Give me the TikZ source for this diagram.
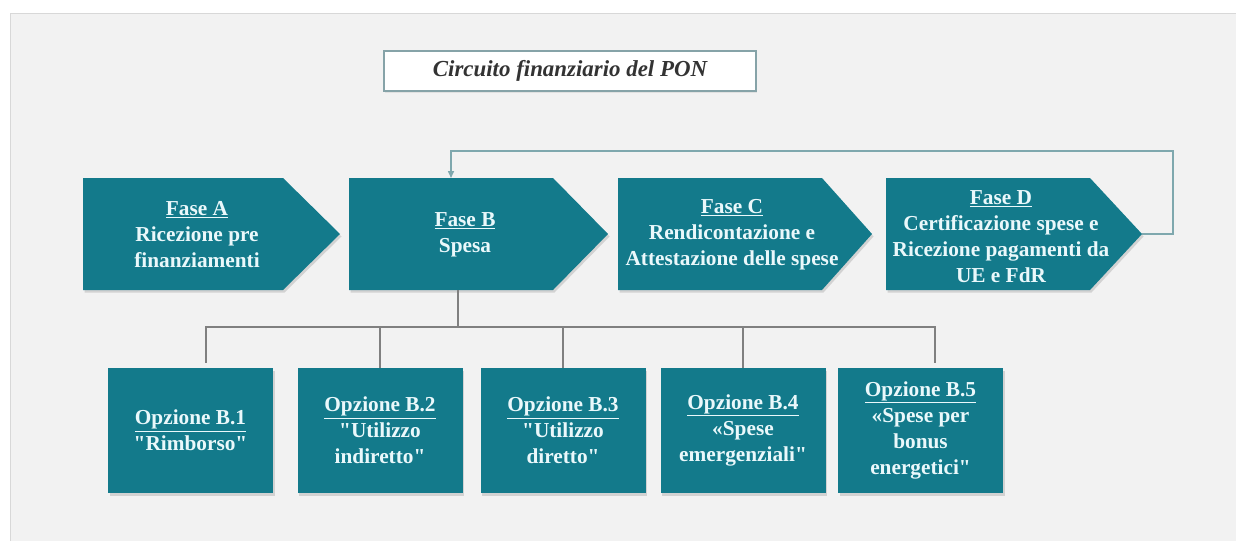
\documentclass[tikz,border=0pt]{standalone}
\usepackage{fontspec}
\setmainfont{Liberation Serif}[Ligatures=TeXOff]
\usetikzlibrary{shadows,arrows.meta}

\definecolor{panelbg}{HTML}{F2F2F2}
\definecolor{panelrule}{HTML}{D8D8D8}
\definecolor{tealbox}{HTML}{137A8B}
\definecolor{boxtext}{HTML}{EAF8FB}
\definecolor{titlerule}{HTML}{86A3A8}
\definecolor{titletext}{HTML}{333333}
\definecolor{loopline}{HTML}{7FA8AE}
\definecolor{treeline}{HTML}{808080}

\tikzset{
  boxshadow/.style={drop shadow={opacity=0.28, shadow xshift=1.5pt, shadow yshift=-2.5pt}},
  phasefill/.style={fill=tealbox, boxshadow},
  phasetext/.style={text=boxtext, align=center, inner sep=0pt,
    font=\fontsize{21.3}{26}\selectfont\bfseries},
  optbox/.style={rectangle, fill=tealbox, boxshadow, text=boxtext, align=center,
    minimum width=165pt, minimum height=125pt, inner sep=0pt,
    font=\fontsize{21.3}{26}\selectfont\bfseries},
  titlebox/.style={rectangle, draw=titlerule, line width=1.4pt, fill=white,
    drop shadow={opacity=0.15, shadow xshift=1pt, shadow yshift=-1.5pt},
    minimum width=372pt, minimum height=40pt, inner sep=0pt, text=titletext,
    font=\fontsize{22.9}{26}\selectfont\bfseries\itshape},
  feedback/.style={draw=loopline, line width=1.5pt, -{Triangle[length=7pt,width=6pt]}},
  tree/.style={draw=treeline, line width=1.2pt},
}

\begin{document}
\begin{tikzpicture}[x=1pt, y=-1pt]
  \useasboundingbox (0,0) rectangle (1236,541);
  % grey panel behind the chart
  \fill[white] (0,0) rectangle (1236,541);
  \fill[panelbg] (10,13) rectangle (1236,541);
  \draw[panelrule, line width=1pt] (10,541) -- (10,13) -- (1236,13);

  % heading
  \node[titlebox] (ttl) at (570,71) {Circuito finanziario del PON};

  % phase arrows
  \path[phasefill] (83,178) -- (283,178) -- (340,234) -- (283,290) -- (83,290) -- cycle;
  \path[phasefill] (349,178) -- (553,178) -- (608,234) -- (553,290) -- (349,290) -- cycle;
  \path[phasefill] (618,178) -- (822,178) -- (872,234) -- (822,290) -- (618,290) -- cycle;
  \path[phasefill] (886,178) -- (1090,178) -- (1142,234) -- (1090,290) -- (886,290) -- cycle;

  \node[phasetext] (fa) at (197,235) {\underline{Fase A}\\Ricezione pre\\finanziamenti};
  \node[phasetext] (fb) at (465,235) {\underline{Fase B}\\Spesa};
  \node[phasetext] (fc) at (732,235) {\underline{Fase C}\\Rendicontazione e\\Attestazione delle spese};
  \node[phasetext] (fd) at (1001,237) {\underline{Fase D}\\Certificazione spese e\\Ricezione pagamenti da\\UE e FdR};

  % anchor points on the arrow outlines
  \coordinate (dtip) at (1142,234);
  \coordinate (loopR) at (1173,151);
  \coordinate (btop) at (451,178);
  \coordinate (bbot) at (458,290);
  \coordinate (hub) at (458,327);

  % loop back from phase D to phase B
  \draw[feedback] (dtip) -| (loopR) -| (btop);

  % options of phase B
  \node[optbox] (o1) at (190.5,430.5) {\underline{Opzione B.1}\\"Rimborso"};
  \node[optbox] (o2) at (380,430.5) {\underline{Opzione B.2}\\"Utilizzo\\indiretto"};
  \node[optbox] (o3) at (563,430.5) {\underline{Opzione B.3}\\"Utilizzo\\diretto"};
  \node[optbox] (o4) at (743,430.5) {\underline{Opzione B.4}\\«Spese\\emergenziali"};
  \node[optbox] (o5) at (920.5,430.5) {\underline{Opzione B.5}\\«Spese per\\bonus\\energetici"};

  % tree from phase B to its options
  \draw[tree] (bbot) -- (hub);
  \draw[tree] (hub) -| ([xshift=15.5pt,yshift=5pt]o1.north);
  \draw[tree] (hub) -| (o2.north);
  \draw[tree] (hub) -| (o3.north);
  \draw[tree] (hub) -| (o4.north);
  \draw[tree] (hub) -| ([xshift=14.5pt,yshift=5pt]o5.north);
\end{tikzpicture}
\end{document}
